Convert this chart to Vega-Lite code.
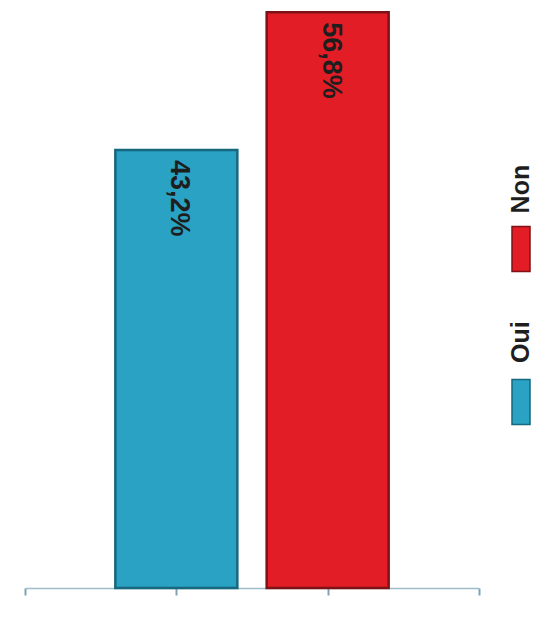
{
  "$schema": "https://vega.github.io/schema/vega-lite/v6.json",
  "background": "white",
  "padding": {"left": 24, "top": 0, "right": 0, "bottom": 0},
  "spacing": 29,
  "data": {"values": [
    {"reponse": "Oui", "pourcentage": 43.2, "label": "43,2%"},
    {"reponse": "Non", "pourcentage": 56.8, "label": "56,8%"}
  ]},
  "config": {"view": {"stroke": null}, "font": "Liberation Sans"},
  "hconcat": [
    {
      "width": 454,
      "height": 588,
      "encoding": {
        "x": {"field": "reponse", "type": "nominal",
          "scale": {"type": "point", "domain": ["_g", "Oui", "Non", "_d"], "padding": 0},
          "axis": {"labels": false, "title": null, "domainColor": "#9fbccb", "domainWidth": 1.5, "tickColor": "#7fa3b5", "tickSize": 7, "tickWidth": 2, "grid": false}},
        "y": {"field": "pourcentage", "type": "quantitative", "scale": {"domain": [0, 58], "nice": false}, "axis": null}
      },
      "layer": [
        {
          "mark": {"type": "bar", "size": 122, "strokeWidth": 2.5},
          "encoding": {
            "color": {"field": "reponse", "type": "nominal", "scale": {"domain": ["Oui", "Non"], "range": ["#29A2C3", "#E21D26"]}, "legend": null},
            "stroke": {"field": "reponse", "type": "nominal", "scale": {"domain": ["Oui", "Non"], "range": ["#17677E", "#7E1217"]}, "legend": null}
          }
        },
        {
          "mark": {"type": "text", "angle": 90, "align": "left", "baseline": "middle", "dx": 10, "dy": -3, "fontSize": 27, "fontWeight": "bold", "color": "#1e1e1e"},
          "encoding": {"text": {"field": "label"}}
        }
      ]
    },
    {
      "width": 18,
      "height": 459,
      "encoding": {
        "y": {"field": "reponse", "type": "nominal",
          "scale": {"type": "point", "domain": ["Non", "Oui"], "padding": 1, "align": 0.814},
          "axis": null}
      },
      "layer": [
        {
          "mark": {"type": "tick", "orient": "vertical", "size": 45, "thickness": 18, "opacity": 1, "strokeWidth": 1.5},
          "encoding": {
            "color": {"field": "reponse", "type": "nominal", "scale": {"domain": ["Oui", "Non"], "range": ["#29A2C3", "#E21D26"]}, "legend": null},
            "stroke": {"field": "reponse", "type": "nominal", "scale": {"domain": ["Oui", "Non"], "range": ["#1F8FAE", "#A5151B"]}, "legend": null}
          }
        },
        {
          "mark": {"type": "text", "angle": 270, "align": "center", "baseline": "middle", "yOffset": -60, "fontSize": 25, "fontWeight": "bold", "color": "#1e1e1e"},
          "encoding": {"text": {"field": "reponse"}}
        }
      ]
    }
  ]
}
